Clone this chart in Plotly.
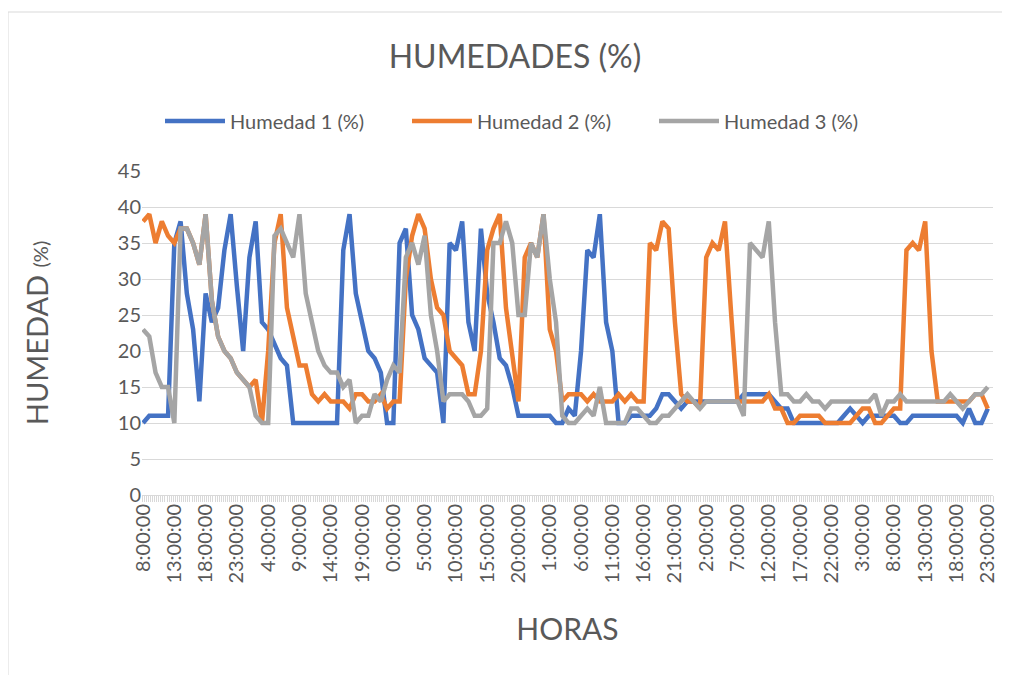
import plotly.graph_objects as go

# hours elapsed since 8:00:00 of the first day
horas = list(range(136))

humedad_1 = [
    10, 11, 11, 11, 11, 35, 38, 28, 23, 13,
    28, 24, 26, 34, 39, 29, 20, 33, 38, 24,
    23, 21, 19, 18, 10, 10, 10, 10, 10, 10,
    10, 10, 34, 39, 28, 24, 20, 19, 17, 10,
    10, 35, 37, 25, 23, 19, 18, 17, 10, 35,
    34, 38, 24, 20, 37, 28, 24, 19, 18, 15,
    11, 11, 11, 11, 11, 11, 10, 10, 12, 11,
    20, 34, 33, 39, 24, 20, 10, 10, 11, 11,
    11, 11, 12, 14, 14, 13, 12, 13, 13, 13,
    13, 13, 13, 13, 13, 13, 14, 14, 14, 14,
    14, 13, 12, 12, 10, 10, 10, 10, 10, 10,
    10, 10, 11, 12, 11, 10, 11, 11, 11, 11,
    11, 10, 10, 11, 11, 11, 11, 11, 11, 11,
    11, 10, 12, 10, 10, 12,
]

humedad_2 = [
    38, 39, 35, 38, 36, 35, 37, 37, 35, 32,
    39, 27, 22, 20, 19, 17, 16, 15, 16, 10,
    20, 35, 39, 26, 22, 18, 18, 14, 13, 14,
    13, 13, 13, 12, 14, 14, 13, 13, 14, 12,
    13, 13, 30, 36, 39, 37, 30, 26, 25, 20,
    19, 18, 14, 14, 20, 34, 37, 39, 26, 20,
    13, 33, 35, 33, 39, 23, 20, 13, 14, 14,
    14, 13, 14, 13, 13, 13, 14, 13, 14, 13,
    13, 35, 34, 38, 37, 24, 14, 13, 13, 12,
    33, 35, 34, 38, 25, 13, 13, 13, 13, 13,
    14, 12, 12, 10, 10, 11, 11, 11, 11, 10,
    10, 10, 10, 10, 11, 12, 12, 10, 10, 11,
    12, 12, 34, 35, 34, 38, 20, 13, 13, 13,
    13, 13, 13, 14, 14, 12,
]

humedad_3 = [
    23, 22, 17, 15, 15, 10, 37, 37, 35, 32,
    39, 27, 22, 20, 19, 17, 16, 15, 11, 10,
    10, 36, 37, 35, 33, 39, 28, 24, 20, 18,
    17, 17, 15, 16, 10, 11, 11, 14, 13, 16,
    18, 17, 33, 35, 32, 36, 25, 20, 13, 14,
    14, 14, 13, 11, 11, 12, 35, 35, 38, 35,
    25, 25, 35, 33, 39, 30, 24, 11, 10, 10,
    11, 12, 11, 15, 10, 10, 10, 10, 12, 12,
    11, 10, 10, 11, 11, 12, 13, 14, 13, 12,
    13, 13, 13, 13, 13, 13, 11, 35, 34, 33,
    38, 24, 14, 14, 13, 13, 14, 13, 13, 12,
    13, 13, 13, 13, 13, 13, 13, 14, 11, 13,
    13, 14, 13, 13, 13, 13, 13, 13, 13, 14,
    13, 12, 13, 14, 14, 15,
]

tick_horas = [0, 5, 10, 15, 20, 25, 30, 35, 40, 45, 50, 55, 60, 65,
              70, 75, 80, 85, 90, 95, 100, 105, 110, 115, 120, 125, 130, 135]
tick_labels = ["8:00:00", "13:00:00", "18:00:00", "23:00:00", "4:00:00", "9:00:00",
               "14:00:00", "19:00:00", "0:00:00", "5:00:00", "10:00:00", "15:00:00",
               "20:00:00", "1:00:00", "6:00:00", "11:00:00", "16:00:00", "21:00:00",
               "2:00:00", "7:00:00", "12:00:00", "17:00:00", "22:00:00", "3:00:00",
               "8:00:00", "13:00:00", "18:00:00", "23:00:00"]

series = [
    ("Humedad 1 (%)", humedad_1, "#4472C4"),
    ("Humedad 2 (%)", humedad_2, "#ED7D31"),
    ("Humedad 3 (%)", humedad_3, "#A5A5A5"),
]

FONT = "Lato, Carlito, 'Liberation Sans', sans-serif"
TXT = "#595959"
GRID = "#D9D9D9"

# the page shows the figure with an 8px body offset
OFF = 8
W, H = 1010, 675

fig = go.Figure()
for name, vals, color in series:
    fig.add_trace(go.Scatter(
        x=horas, y=vals, name=name, mode="lines",
        line=dict(color=color, width=4.5, shape="linear"),
        hoverinfo="skip",
    ))

L, R, T, B = 142 - OFF, 17 + OFF, 171 - OFF, 180 + OFF
PW, PH = W - L - R, H - T - B

def px_x(px):
    return (px - OFF - L) / PW

def px_y(py):
    return (H - B - (py - OFF)) / PH

fig.update_layout(
    width=W, height=H,
    margin=dict(l=L, r=R, t=T, b=B),
    paper_bgcolor="white", plot_bgcolor="white",
    font=dict(family=FONT, color=TXT),
    title=dict(text="HUMEDADES (%)", x=(515 - OFF) / W, xanchor="center",
               y=1 - (57 - OFF) / H, yanchor="middle", xref="container", yref="container",
               font=dict(size=32, color=TXT, family=FONT)),
    legend=dict(orientation="h", x=px_x(160), xanchor="left",
                y=px_y(121), yanchor="middle",
                font=dict(size=20, color=TXT, family=FONT),
                itemwidth=60, entrywidth=172, entrywidthmode="pixels",
                bgcolor="rgba(0,0,0,0)", traceorder="normal"),
    showlegend=True,
)

fig.update_xaxes(
    range=[-1 / 6, 135 + 5 / 6],
    tickmode="array", tickvals=tick_horas, ticktext=tick_labels,
    tickangle=-90, tickfont=dict(size=20, color=TXT, family=FONT),
    ticks="", showgrid=False, zeroline=False,
    showline=True, linecolor=GRID, linewidth=1,
    minor=dict(tickmode="linear", tick0=-1 / 6, dtick=1 / 3, ticks="outside",
               ticklen=6, tickcolor=GRID, tickwidth=1, showgrid=False),
    title=dict(text="HORAS", font=dict(size=30, color=TXT, family=FONT), standoff=36),
)

fig.update_yaxes(
    range=[0, 45], dtick=5, tick0=0,
    tickfont=dict(size=20, color=TXT, family=FONT),
    showgrid=True, gridcolor=GRID, gridwidth=1,
    zeroline=False, showline=False, ticks="",
    title=dict(text='HUMEDAD <span style="font-size:20px">(%)</span>',
               font=dict(size=29, color=TXT, family=FONT), standoff=60),
)

# chart-area frame (left and top edges visible in the reference)
fig.add_shape(type="line", xref="paper", yref="paper",
              x0=px_x(8), x1=px_x(8), y0=px_y(700), y1=px_y(12),
              line=dict(color=GRID, width=1))
fig.add_shape(type="line", xref="paper", yref="paper",
              x0=px_x(8), x1=px_x(1030), y0=px_y(12), y1=px_y(12),
              line=dict(color=GRID, width=1))

fig.write_html("out.html")
